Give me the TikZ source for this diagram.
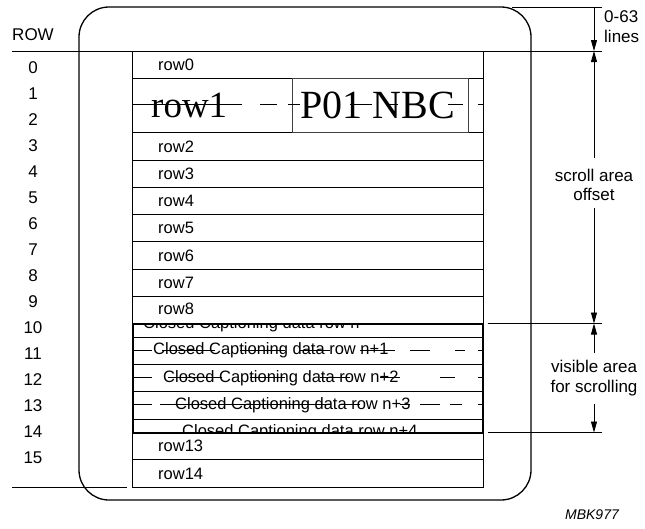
\documentclass[tikz,border=0pt]{standalone}
\usepackage{fontspec}
\setmainfont{Liberation Sans}
\newfontfamily\bigserif{Liberation Serif}
\usetikzlibrary{arrows.meta}
\begin{document}
\begin{tikzpicture}[x=1pt,y=-1pt,
  thinln/.style={line width=0.8pt},
  frame/.style={line width=1.3pt, rounded corners=30pt},
  winbox/.style={line width=2pt},
  lbl/.style={font=\fontsize{16.5}{19}\selectfont, inner sep=0pt},
  side/.style={font=\fontsize{17}{19.5}\selectfont, inner sep=0pt},
  bigtxt/.style={font=\bigserif\fontsize{37}{40}\selectfont, inner sep=0pt},
  dimarrow/.style={line width=0.8pt, -{Triangle[length=11pt,width=6pt]}},
  strike/.style={line width=0.8pt}]
\useasboundingbox (0,0) rectangle (645,528);
% outer rounded screen
\draw[frame] (79,7) rectangle (531,500);
% ROW column
\node[side] (rowhdr) at (33,35) {ROW};
\foreach \k in {0,...,15} \node[side] (n\k) at (33,{68+26*\k}) {\k};
\coordinate (topL) at (12,51);
\coordinate (topR) at (602,51);
\draw[thinln] (topL) -- (topR);
\coordinate (botL) at (12,487);
\coordinate (botR) at (127,487);
\draw[thinln] (botL) -- (botR);
% table frame
\draw[thinln] (132,51) rectangle (483,487);
\foreach \y in {78.25,132.75,160,187.25,214.5,241.75,269,296.25,459.75}
  \draw[thinln] (132,\y) -- (483,\y);
% table texts
\node[lbl,anchor=west] (t0) at (158,64.6) {row0};
\node[lbl,anchor=west] (t2) at (158,146.4) {row2};
\node[lbl,anchor=west] (t3) at (158,173.6) {row3};
\node[lbl,anchor=west] (t4) at (158,200.9) {row4};
\node[lbl,anchor=west] (t5) at (158,228.1) {row5};
\node[lbl,anchor=west] (t6) at (158,255.4) {row6};
\node[lbl,anchor=west] (t7) at (158,282.6) {row7};
\node[lbl,anchor=west] (t8) at (158,308.9) {row8};
\node[lbl,anchor=west] (t13) at (158,446.1) {row13};
\node[lbl,anchor=west] (t14) at (158,473.4) {row14};
% double height row1
\draw[line width=0.6pt, draw=black!75] (292,78.25) rectangle (468,132.75);
\node[bigtxt,anchor=west] (row1) at (151,105) {row1};
\node[bigtxt,font=\bigserif\fontsize{40}{42}\selectfont] (pnbc) at (378,105) {P01 NBC};
\foreach \a/\b in {132/242,260/277,288/300,350/372,386/398,448/463,478/483}
  \draw[strike] (\a,104) -- (\b,104);
% closed captioning window
\begin{scope}
  \clip (133,323.5) rectangle (483,432.5);
  \node[lbl,anchor=west] (cc0) at (143,324) {Closed Captioning data row n};
  \node[lbl,anchor=west] (cc4) at (182,432.5) {Closed Captioning data row n+4};
\end{scope}
\node[lbl,anchor=west] (cc1) at (153,350.7) {Closed Captioning data row n+1};
\node[lbl,anchor=west] (cc2) at (163,378) {Closed Captioning data row n+2};
\node[lbl,anchor=west] (cc3) at (175,405.2) {Closed Captioning data row n+3};
\foreach \y in {337.1,364.4,391.6,418.9}
  \draw[thinln] (133,\y) -- (483,\y);
\draw[winbox] (133,323.5) rectangle (483,432.5);
% strikes / dashes in CC rows
\foreach \a/\b in {133/152,162/215,240/285,300/330,360/395,410/430,455/465,478/483}
  \draw[strike] (\a,350.2) -- (\b,350.2);
\foreach \a/\b in {133/152,168/222,250/285,320/350,380/400,440/455,478/483}
  \draw[strike] (\a,377.5) -- (\b,377.5);
\foreach \a/\b in {133/152,160/330,340/360,400/410,420/440,450/462,478/483}
  \draw[strike] (\a,404.7) -- (\b,404.7);
% right-hand dimension lines
\coordinate (wtR1) at (488,323.5);
\coordinate (wtR2) at (602,323.5);
\coordinate (wbR1) at (488,432.5);
\coordinate (wbR2) at (602,432.5);
\coordinate (tR1) at (512,7);
\coordinate (tR2) at (602,7);
\draw[thinln] (wtR1) -- (wtR2);
\draw[thinln] (wbR1) -- (wbR2);
\draw[thinln] (tR1) -- (tR2);
\coordinate (a1s) at (594,7);
\coordinate (a1e) at (594,51);
\draw[dimarrow] (a1s) -- (a1e);
\node[side,anchor=west] (l063) at (604,17) {0-63};
\node[side,anchor=west] (llines) at (604,36) {lines};
\coordinate (a2s) at (594,158);
\coordinate (a2e) at (594,51);
\draw[dimarrow] (a2s) -- (a2e);
\node[side,align=center] (lscroll) at (594,185) {scroll area\\offset};
\coordinate (a3s) at (594,208);
\coordinate (a3e) at (594,323.5);
\draw[dimarrow] (a3s) -- (a3e);
\coordinate (a4s) at (594,353);
\coordinate (a4e) at (594,323.5);
\draw[dimarrow] (a4s) -- (a4e);
\node[side,align=center] (lvis) at (594,378) {visible area\\for scrolling};
\coordinate (a5s) at (594,404);
\coordinate (a5e) at (594,432.5);
\draw[dimarrow] (a5s) -- (a5e);
\node[font=\itshape\fontsize{14}{16}\selectfont, inner sep=0pt] (mbk) at (592,515) {MBK977};
\end{tikzpicture}
\end{document}
